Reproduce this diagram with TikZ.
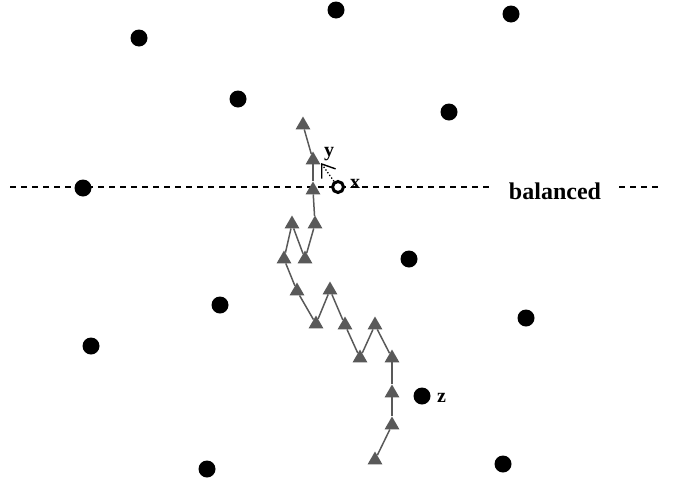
\documentclass[tikz,border=0pt]{standalone}
\usepackage{fontspec}
\setmainfont{Liberation Serif}
\usetikzlibrary{shapes.geometric,arrows.meta}
\definecolor{treegray}{HTML}{595959}
\begin{document}
\begin{tikzpicture}[x=1pt,y=-1pt,
  tri/.style={regular polygon, regular polygon sides=3, minimum size=17pt,
              inner sep=0pt, fill=treegray, draw=none},
  dot/.style={circle, fill=black, minimum size=17pt, inner sep=0pt},
  link/.style={draw=treegray, line width=1.5pt},
  lbl/.style={font=\bfseries\fontsize{20}{20}\selectfont, inner sep=0pt, anchor=base west},
  sepline/.style={line width=1.2pt, dash pattern=on 6pt off 5pt}
]
\useasboundingbox (0,0) rectangle (677,485);

% separating line with its label
\node[font=\bfseries\fontsize{24}{24}\selectfont, inner xsep=18pt, inner ysep=0pt,
      anchor=base] (bal) at (555,199) {balanced};
\coordinate (lend) at (10,187);
\coordinate (rend) at (660,187);
\draw[sepline] (lend) -- (bal.west |- lend);
\draw[sepline] (bal.east |- rend) -- (rend);

% sample points
\foreach \n/\p in {d1/{(336,10)}, d2/{(511,14)}, d3/{(139,38)}, d4/{(238,99)},
                   d5/{(449,112)}, d6/{(83,188)}, d7/{(409,259)}, d8/{(220,305)},
                   d9/{(526,318)}, d10/{(91,346)}, d11/{(422,396)}, d12/{(207,469)},
                   d13/{(503,464)}}
  \node[dot] (\n) at \p {};

% tree nodes
\node[tri] (t1)  at (303,125) {};
\node[tri] (t2)  at (313,160) {};
\node[tri] (t3)  at (313,190) {};
\node[tri] (t4)  at (292,224) {};
\node[tri] (t5)  at (315,224) {};
\node[tri] (t6)  at (284,259) {};
\node[tri] (t7)  at (305,259) {};
\node[tri] (t8)  at (297,291) {};
\node[tri] (t9)  at (330,290) {};
\node[tri] (t10) at (316,324) {};
\node[tri] (t11) at (345,325) {};
\node[tri] (t12) at (375,325) {};
\node[tri] (t13) at (360,358) {};
\node[tri] (t14) at (392,358) {};
\node[tri] (t15) at (392,393) {};
\node[tri] (t16) at (392,425) {};
\node[tri] (t17) at (375,460) {};

% tree edges
\foreach \a/\b in {t1/t2, t2/t3, t3/t5, t5/t7, t4/t7, t4/t6, t6/t8, t8/t10,
                   t10/t9, t9/t11, t11/t13, t13/t12, t12/t14, t14/t15,
                   t15/t16, t16/t17}
  \draw[link] (\a) -- (\b);

% query point and its nearest tree node
\node[circle, draw=black, fill=white, line width=3pt, minimum size=11pt, inner sep=0pt]
  (xc) at (338,187) {};
\coordinate (ytip) at (321,163);
\draw[dotted, line width=1.3pt,
      -{Straight Barb[length=12pt, width=17pt, line width=1.4pt]}] (xc) -- (ytip);

% labels
\node[lbl] (ly) at (324,156) {y};
\node[lbl] (lx) at (350,188) {x};
\node[lbl] (lz) at (437,402) {z};
\end{tikzpicture}
\end{document}
